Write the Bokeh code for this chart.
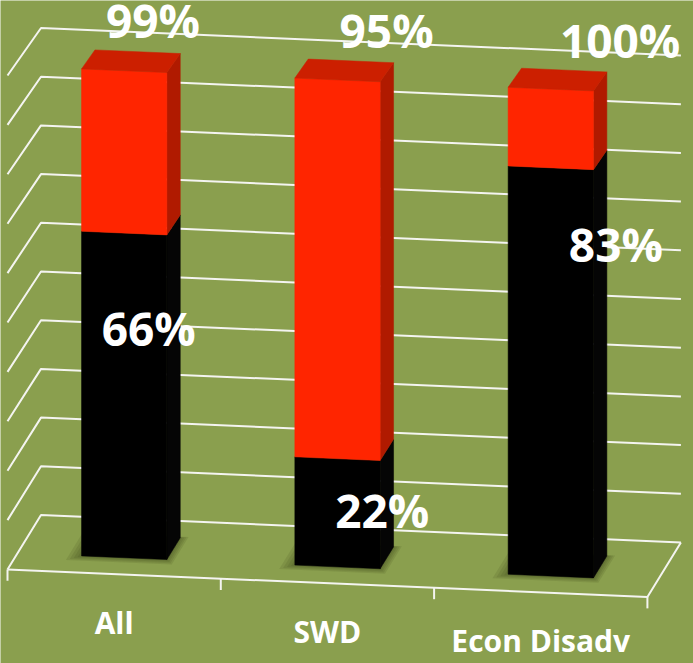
from bokeh.plotting import figure
from bokeh.models import Range1d
from bokeh.embed import file_html
from bokeh.resources import INLINE
from bokeh.core.properties import value

# ---------------- data ----------------
categories = ["All", "SWD", "Econ Disadv"]
black_values = [66, 22, 83]          # lower (black) segment, %
red_values = [33, 77, 16]            # upper (red) segment stacked on black, %
black_labels = ["66%", "22%", "83%"]
top_labels = ["99%", "95%", "100%"]
grid_ticks = [0, 10, 20, 30, 40, 50, 60, 70, 80, 90, 100]

# ---------------- layout / style ----------------
W, H = 693, 663
BG = "#8A9F4E"
X0, Y0 = 7.0, 569.0          # front-left corner of the floor
CW = 213.3                   # width of one category slot
SLOPE = 0.043                # horizontal tilt of the view
DX, DY = 33.5, -54.5         # floor depth vector (front -> back)
K_FRONT, K_BACK = 4.94, 4.87 # vertical scale per % (perspective)
BAR_U = (0.3, 0.7)
BAR_Z = (0.3, 0.7)
black_label_v = [47, 12, 68]
TOP_LABEL_V = 109.5
LABEL_DU0, LABEL_DU1 = 0.115, 0.095

RED_FRONT, RED_TOP, RED_SIDE = "#FF2500", "#CC1F00", "#B01A00"
BLK_FRONT, BLK_SIDE = "#000000", "#050505"


def proj(u, z, v):
    k = K_FRONT + (K_BACK - K_FRONT) * z
    x = X0 + u * CW + z * DX
    y = Y0 + u * CW * SLOPE + z * DY - v * k
    return x, y


def poly(pts):
    xs, ys = zip(*[proj(*p) for p in pts])
    return list(xs), list(ys)


p = figure(width=W, height=H, x_range=Range1d(0, W), y_range=Range1d(H, 0),
           output_backend="svg", toolbar_location=None, min_border=0,
           x_axis_location=None, y_axis_location=None)
p.grid.visible = False
p.outline_line_color = None
p.background_fill_color = BG
p.border_fill_color = BG

# ---- walls / grid lines ----
gx, gy = [], []
for t in grid_ticks:
    a = proj(0, 1, t)
    b = proj(3, 1, t)
    c = proj(0, 0, t)
    gx.append([c[0], a[0], b[0]])
    gy.append([c[1], a[1], b[1]])
# floor front / right edges
f0, f1, f2 = proj(0, 0, 0), proj(3, 0, 0), proj(3, 1, 0)
gx.append([f0[0], f1[0], f2[0]])
gy.append([f0[1], f1[1], f2[1]])
for u in range(4):
    a = proj(u, 0, 0)
    b = proj(u, 0, -2.3)
    gx.append([a[0], b[0]])
    gy.append([a[1], b[1]])
p.multi_line(gx, gy, line_color="#F4F4F0", line_width=2)

# ---- soft shadows (layered) ----
for grow in (0.06, 0.045, 0.03, 0.015):
    sx, sy = [], []
    for i in range(len(categories)):
        u0, u1 = i + BAR_U[0] - grow * 1.0, i + BAR_U[1] + grow * 0.6
        z0, z1 = BAR_Z[0] - grow * 1.4, BAR_Z[1] + grow * 0.3
        xs, ys = poly([(u0, z0, 0), (u1, z0, 0), (u1, z1, 0), (u0, z1, 0)])
        sx.append(xs)
        sy.append(ys)
    p.patches(sx, sy, fill_color="#2E3A10", fill_alpha=0.12, line_color=None)

# ---- bars ----
for i in range(len(categories)):
    u0, u1 = i + BAR_U[0], i + BAR_U[1]
    z0, z1 = BAR_Z
    segs = [(0, black_values[i], BLK_FRONT, BLK_SIDE),
            (black_values[i], black_values[i] + red_values[i], RED_FRONT, RED_SIDE)]
    for (v0, v1, cf, cs) in segs:
        xs, ys = poly([(u1, z0, v0), (u1, z1, v0), (u1, z1, v1), (u1, z0, v1)])
        p.patch(xs, ys, fill_color=cs, line_color=cs, line_width=0.5)
        xs, ys = poly([(u0, z0, v0), (u1, z0, v0), (u1, z0, v1), (u0, z0, v1)])
        p.patch(xs, ys, fill_color=cf, line_color=cf, line_width=0.5)
    v1 = black_values[i] + red_values[i]
    xs, ys = poly([(u0, z0, v1), (u1, z0, v1), (u1, z1, v1), (u0, z1, v1)])
    p.patch(xs, ys, fill_color=RED_TOP, line_color=RED_TOP, line_width=0.5)

# ---- data labels ----
bx, by, tx, ty = [], [], [], []
for i in range(len(categories)):
    uc = i + 0.5 + LABEL_DU0 + LABEL_DU1 * i
    x, y = proj(uc, BAR_Z[0], black_label_v[i])
    bx.append(x); by.append(y)
    x, y = proj(uc + 0.02, BAR_Z[0], TOP_LABEL_V)
    tx.append(x); ty.append(y)

lab_style = dict(text_color="white", text_font=value("Open Sans"), text_font_style="bold",
                 text_font_size="46px", text_align="center", text_baseline="middle")
p.text(bx, by, text=black_labels, **lab_style)
p.text(tx, ty, text=top_labels, **lab_style)

# ---- category labels ----
cx, cy = [], []
for i in range(len(categories)):
    x, y = proj(i + 0.5, 0, 0)
    cx.append(x); cy.append(y + 48)
p.text(cx, cy, text=categories, text_color="white", text_font=value("Open Sans"),
       text_font_style="bold", text_font_size="30px", text_align="center",
       text_baseline="alphabetic")

open("out.html", "w").write(file_html(p, INLINE))
